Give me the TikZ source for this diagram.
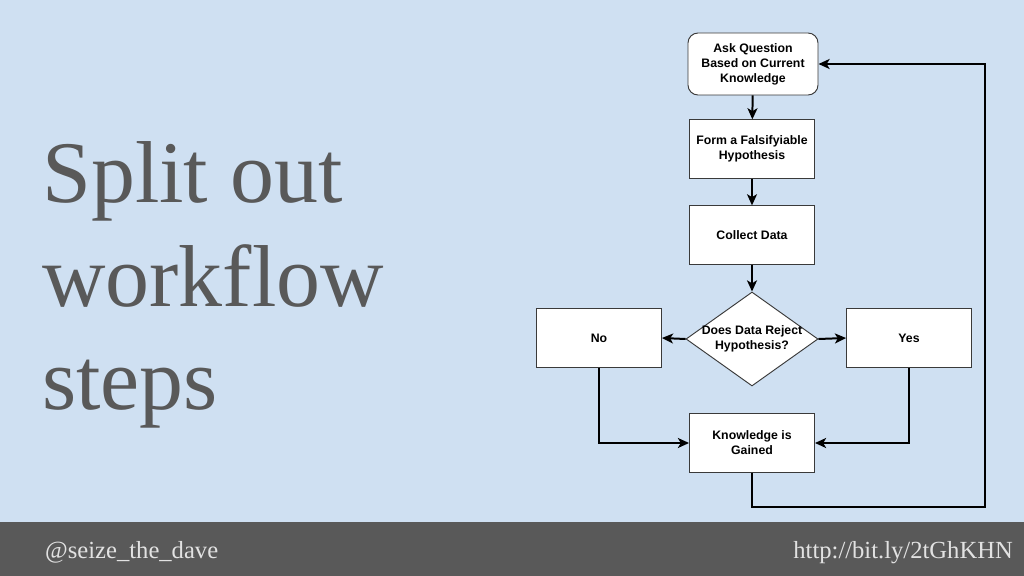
\documentclass[tikz,border=0pt]{standalone}
\usepackage{fontspec}
\setmainfont{Liberation Serif}
\newfontfamily\chartfont{Liberation Sans}
\usepackage{tikz}
\usetikzlibrary{arrows.meta, positioning, shapes.geometric}
\definecolor{slideblue}{HTML}{CFE0F2}
\definecolor{slidegray}{HTML}{595959}
\definecolor{footertext}{HTML}{E2E2E2}
\definecolor{boxline}{HTML}{3A3A3A}
\tikzset{
  chartlabel/.style={font={\chartfont\bfseries\fontsize{10.5}{12.75}\selectfont}, align=center},
  stepbox/.style={chartlabel, draw=boxline, fill=white, line width=0.8pt, minimum width=3.75cm, minimum height=1.75cm},
  startbox/.style={stepbox, rounded corners=3mm, minimum width=3.9cm, minimum height=1.86cm},
  decidebox/.style={diamond, draw=boxline, fill=white, line width=0.8pt, inner sep=0pt, minimum width=3.96cm, minimum height=2.82cm},
  flow/.style={line width=1.7pt, -{Stealth[length=9.5pt, width=8.5pt, inset=2.5pt]}},
  titleword/.style={anchor=base west, inner sep=0pt, text=slidegray, font=\fontsize{75}{88}\selectfont},
  footerword/.style={inner sep=0pt, text=footertext, font=\fontsize{21}{24}\selectfont}
}

\begin{document}
\begin{tikzpicture}[x=0.3mm, y=-0.3mm]
    % slide
    \fill[slideblue] (0,0) rectangle (1024,576);
    \useasboundingbox (0,0) rectangle (1024,576);
    \fill[slidegray] (0,522) rectangle (1024,576);

    % title
    \foreach \word/\ypos [count=\n] in {Split out/203, workflow/307, steps/410} {
      \node[titleword] (title\n) at (42,\ypos) {\word};
    }

    % footer
    \node[footerword, anchor=base west] (handle) at (45,558) {@seize\_the\_dave};
    \node[footerword, anchor=base east] (link) at (1013,558) {http://bit.ly/2tGhKHN};

    % flowchart
    \node[startbox] (ask) at (753,64) {Ask Question\\Based on Current\\Knowledge};
    \node[stepbox] (hypothesis) at (752,149) {Form a Falsifyiable\\Hypothesis};
    \node[stepbox] (collect) at (752,235) {Collect Data};
    \node[decidebox, label={[chartlabel]center:{Does Data Reject\\Hypothesis?}}] (decide) at (752,339) {};
    \node[stepbox] (no) at (599,338) {No};
    \node[stepbox] (yes) at (909,338) {Yes};
    \node[stepbox] (gained) at (752,443) {Knowledge is\\Gained};
    \coordinate (loopcorner) at (985,507);

    \draw[flow] (ask) -- (hypothesis);
    \draw[flow] (hypothesis) -- (collect);
    \draw[flow] (collect) -- (decide);
    \draw[flow] (decide.west) -- (no.east);
    \draw[flow] (decide.east) -- (yes.west);
    \draw[flow] (no.south) |- (gained.west);
    \draw[flow] (yes.south) |- (gained.east);
    \draw[flow] (gained.south) |- (loopcorner) |- (ask.east);
  \end{tikzpicture}
\end{document}
